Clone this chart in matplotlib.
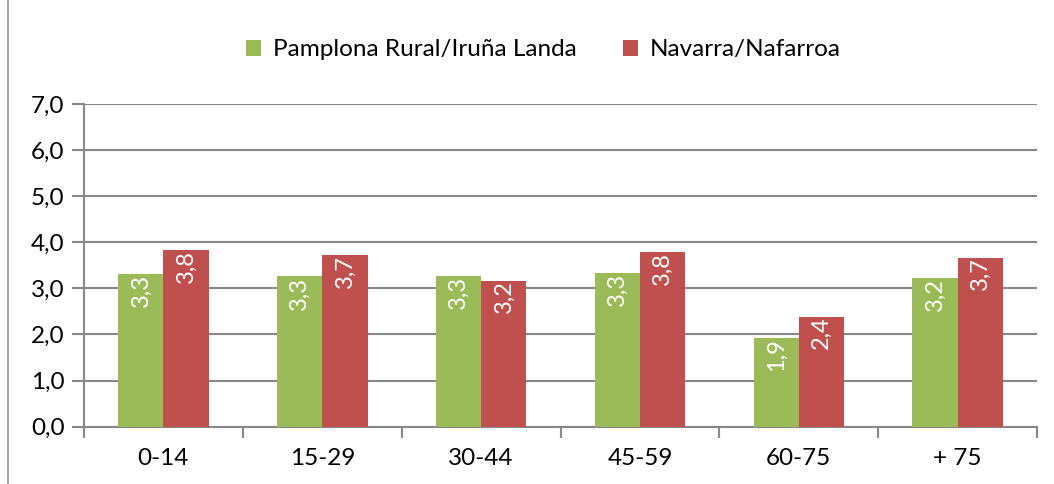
import numpy as np
import matplotlib.pyplot as plt

# age groups and values per series
categories = ['0-14', '15-29', '30-44', '45-59', '60-75', '+ 75']
pamplona = [3.31, 3.26, 3.27, 3.33, 1.93, 3.22]
navarra = [3.83, 3.73, 3.17, 3.78, 2.39, 3.67]
series_names = ['Pamplona Rural/Iruña Landa', 'Navarra/Nafarroa']

green = '#9BBB59'
red = '#C0504D'
grid_col = '#888888'

plt.rcParams['font.family'] = ['Lato', 'DejaVu Sans']

fig = plt.figure(figsize=(10.54, 4.84), dpi=100)
ax = fig.add_axes([0.0797, 0.1184, 0.9043, 0.6667])

x = np.arange(len(categories))
w = 0.285
b1 = ax.bar(x - w / 2, pamplona, w, color=green, label=series_names[0], zorder=3)
b2 = ax.bar(x + w / 2, navarra, w, color=red, label=series_names[1], zorder=3)

def fmt(v):
    return ('%.1f' % v).replace('.', ',')

for bars, vals in [(b1, pamplona), (b2, navarra)]:
    for rect, v in zip(bars, vals):
        ax.annotate(fmt(v), (rect.get_x() + rect.get_width() / 2, v),
                    xytext=(0, 0), textcoords='offset points',
                    rotation=90, ha='center', va='top', color='white',
                    fontsize=17, zorder=4)

ax.set_xlim(-0.5, len(categories) - 0.5)
ax.set_ylim(0, 7)
ax.set_yticks(np.arange(0, 7.5, 1))
ax.set_yticklabels([fmt(v) for v in np.arange(0, 7.5, 1)], fontsize=17.5)
ax.yaxis.grid(True, color=grid_col, linewidth=1.5, zorder=0)

ax.set_xticks(x)
ax.set_xticklabels(categories, fontsize=17.5)
ax.tick_params(axis='x', length=0, pad=15)
ax.set_xticks(np.arange(-0.5, len(categories)), minor=True)
ax.tick_params(axis='x', which='minor', length=8, width=1.5, color=grid_col)
ax.tick_params(axis='y', length=9, width=1.5, color=grid_col, pad=5)

for s in ['top', 'right']:
    ax.spines[s].set_visible(False)
for s in ['left', 'bottom']:
    ax.spines[s].set_color(grid_col)
    ax.spines[s].set_linewidth(1.5)

fig.legend(loc='center', bbox_to_anchor=(0.5157, 0.897), ncol=2, frameon=False,
           fontsize=17.5, handlelength=0.6, handleheight=0.6, columnspacing=1.9,
           handletextpad=0.5)

# outer frame line on the left
fig.add_artist(plt.Line2D([0.0075, 0.0075], [0, 1], color='#999999', linewidth=1.2,
                          transform=fig.transFigure))

fig.savefig('out.png', dpi=100)
